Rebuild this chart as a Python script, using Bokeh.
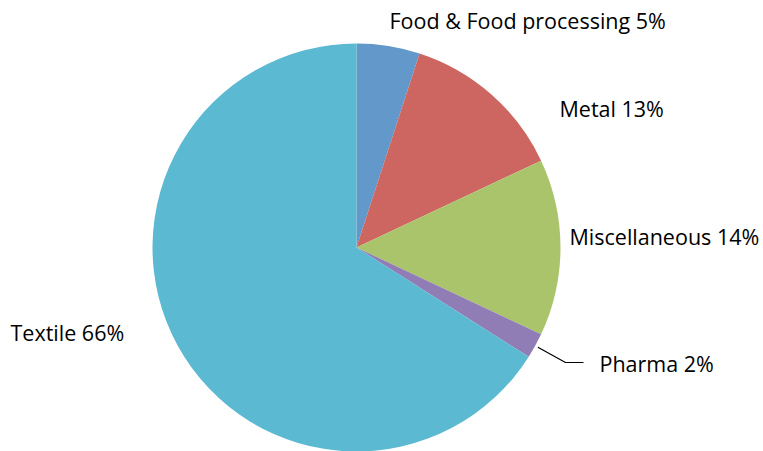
import numpy as np
from bokeh.plotting import figure
from bokeh.models import Range1d
from bokeh.core.properties import value
from bokeh.embed import file_html
from bokeh.resources import INLINE

categories = ["Food & Food processing", "Metal", "Miscellaneous", "Pharma", "Textile"]
shares = [5, 13, 14, 2, 66]
colors = ["#6398CA", "#CD6660", "#AAC46C", "#907DB6", "#5BB9D1"]

W, H = 763, 451
cx, cy, R = 356, H - 247, 204  # pie centre and radius in px (data units = px)

p = figure(width=W, height=H, output_backend="svg", toolbar_location=None,
           x_range=Range1d(0, W), y_range=Range1d(0, H), min_border=0)
p.axis.visible = False
p.grid.visible = False
p.outline_line_color = None

total = float(sum(shares))
cum = np.concatenate([[0], np.cumsum(shares)]) / total
starts = np.pi / 2 - 2 * np.pi * cum[:-1]
ends = np.pi / 2 - 2 * np.pi * cum[1:]
p.wedge(x=cx, y=cy, radius=R, start_angle=starts, end_angle=ends,
        direction="clock", fill_color=colors, line_color=None)

# leader line for Pharma
mid = (starts[3] + ends[3]) / 2
sx, sy = cx + (R + 3) * np.cos(mid), cy + (R + 3) * np.sin(mid)
p.line([sx, 565, 583], [sy, H - 362, H - 362], line_color="black", line_width=1.2)

labels = [f"{c} {v}%" for c, v in zip(categories, shares)]
lx = [389, 559, 569, 599, 10]
ly = [H - 20, H - 108, H - 236, H - 363, H - 332]
p.text(x=lx, y=ly, text=labels, text_font=value("Open Sans"), text_font_size="21.5px",
       text_color="#000000", text_baseline="middle", text_align="left")

open("out.html", "w").write(file_html(p, INLINE))
